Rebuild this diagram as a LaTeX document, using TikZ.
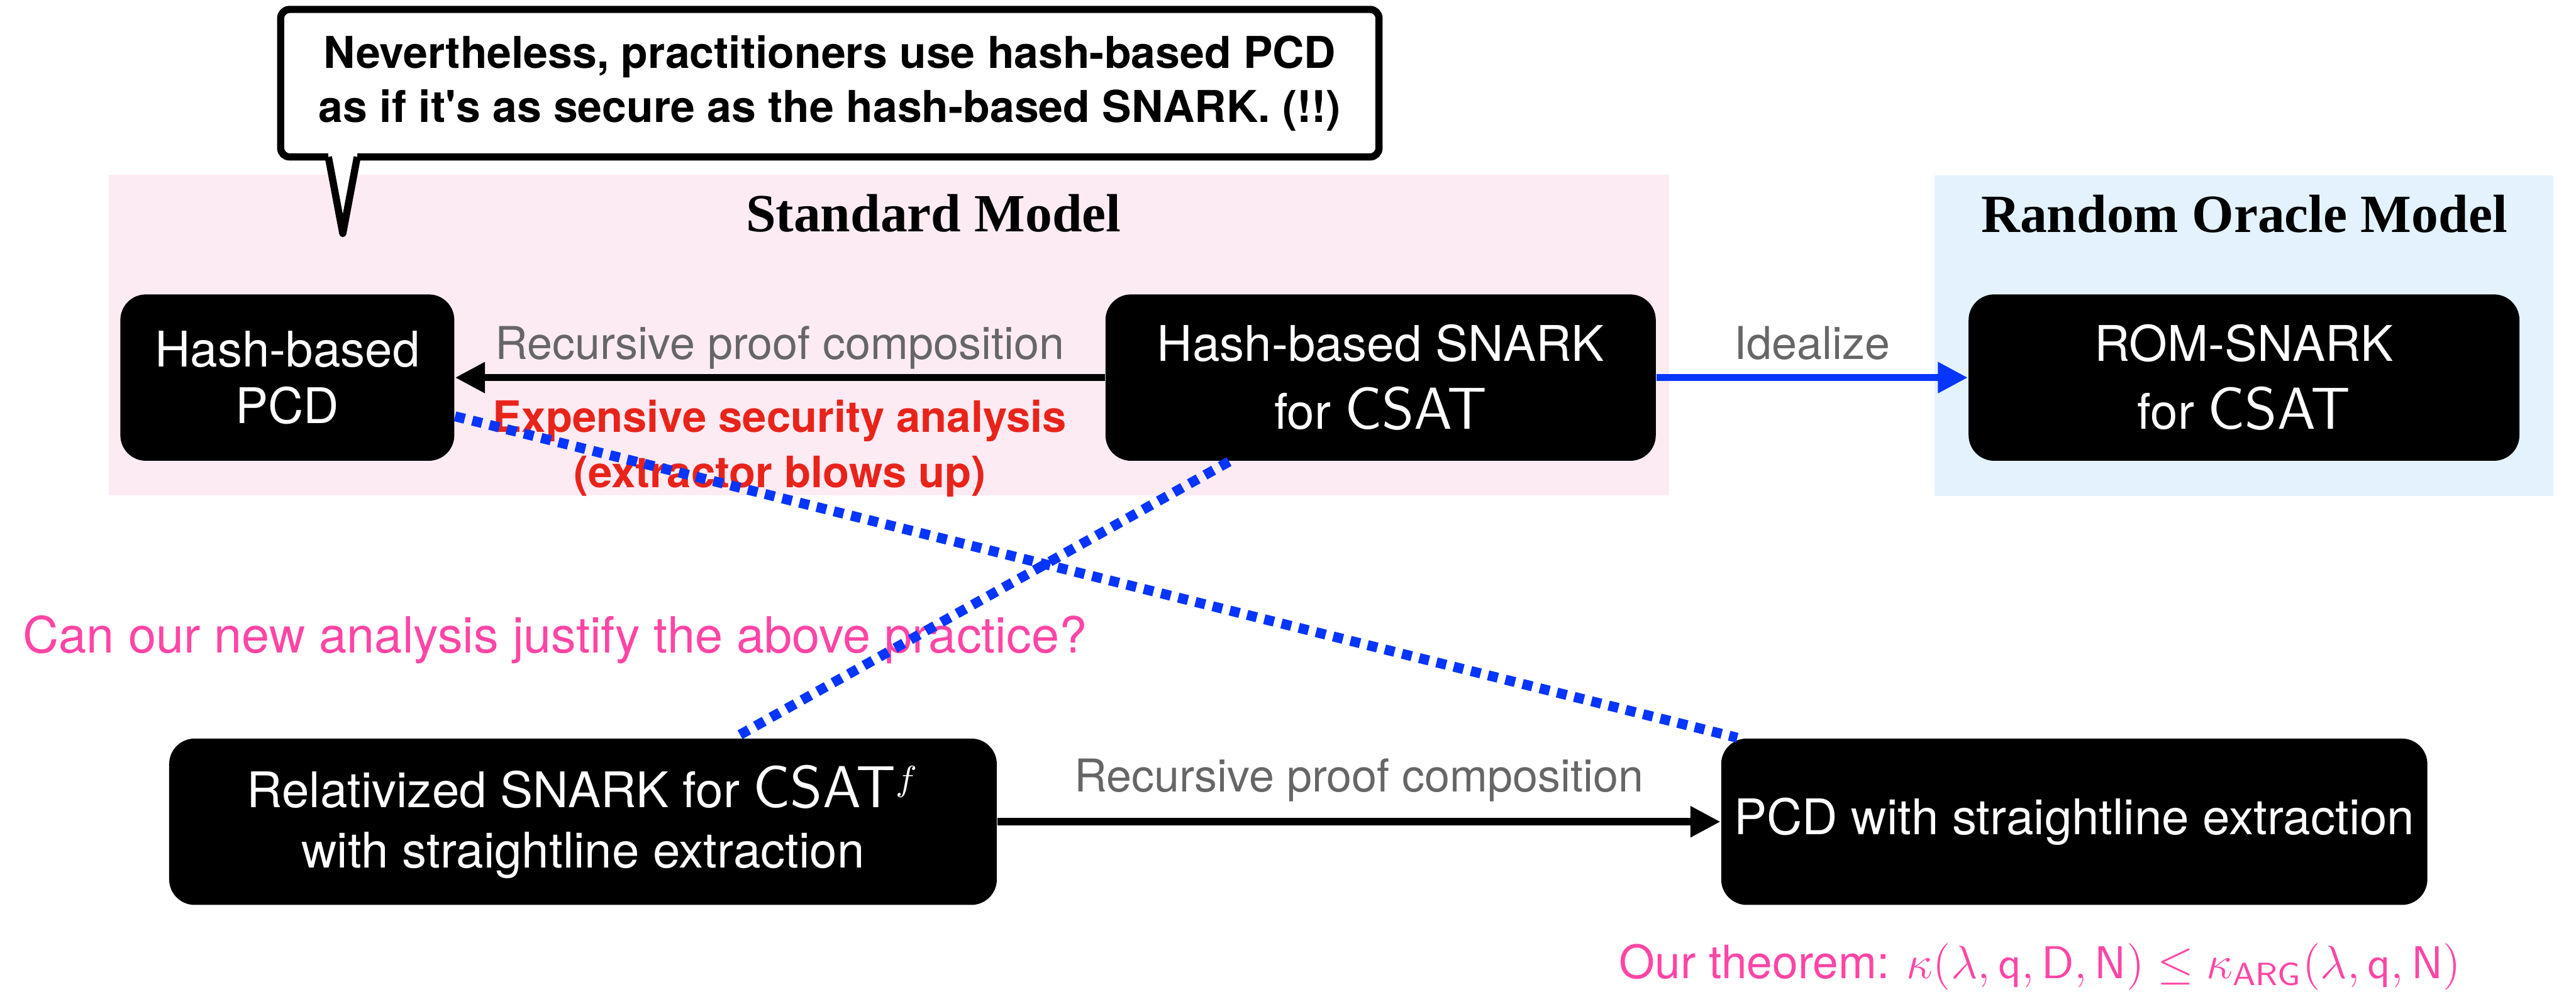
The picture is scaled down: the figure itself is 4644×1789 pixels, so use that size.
\documentclass[tikz,border=0pt]{standalone}
\usepackage{fontspec}
\setmainfont{TeX Gyre Heros}
\newfontfamily\titleserif{Liberation Serif}
\usetikzlibrary{arrows.meta,positioning}
\definecolor{pinkbg}{HTML}{FDEBF4}
\definecolor{bluebg}{HTML}{E3F2FD}
\definecolor{hotpink}{HTML}{FF45A5}
\definecolor{alertred}{HTML}{E8241A}
\definecolor{linkblue}{HTML}{0535FF}
\definecolor{labelgray}{HTML}{666666}
\newcommand{\csat}{{\sffamily\fontsize{15.2}{15.2}\selectfont CSAT}}

\begin{document}
\begin{tikzpicture}[x=0.05mm,y=-0.05mm,
   box/.style={fill=black,text=white,rounded corners=2.3mm,align=center,inner sep=0pt,
               minimum height=15mm,font=\fontsize{12.6}{14.65}\selectfont},
   lbl/.style={text=labelgray,inner sep=0pt,font=\fontsize{11.6}{13}\selectfont},
   arr/.style={-{Triangle[length=2.7mm,width=2.65mm]},line width=0.65mm},
   dots/.style={linkblue,line width=0.9mm,dash pattern=on 0.9mm off 0.7mm},
   region/.style={inner sep=0pt,minimum height=28.9mm},
   title/.style={inner sep=0pt,anchor=base,font=\titleserif\bfseries\fontsize{13.8}{15}\selectfont}]
  \useasboundingbox (0,0) rectangle (4644,1789);
  % model regions
  \node[region,fill=pinkbg,minimum width=140.65mm] (stdm) at (1602.5,604) {};
  \node[region,fill=bluebg,minimum width=55.8mm]   (romm) at (4045,605) {};
  \node[title] (stdt) at (1683,418) {Standard Model};
  \node[title] (romt) at (4046,419) {Random Oracle Model};
  % speech bubble
  \node[draw,fill=white,line width=0.65mm,rounded corners=0.8mm,minimum width=99mm,
        minimum height=13.3mm,align=center,font=\bfseries\fontsize{11.25}{13.94}\selectfont]
       (note) at (1496,150)
       {Nevertheless, practitioners use hash-based PCD\\as if it\textquotesingle s as secure as the hash-based SNARK. (!!)};
  \coordinate (tl)  at (592,283);
  \coordinate (tr)  at (644,283);
  \coordinate (tip) at (618,421);
  \fill[white] ([yshift=0.7mm]tl) -- (tl) -- (tip) -- (tr) -- ([yshift=0.7mm]tr) -- cycle;
  \draw[line width=0.65mm,line join=round] (tl) -- (tip) -- (tr);
  % boxes
  \node[box,minimum width=30.1mm] (hpcd) at (518,681) {Hash-based\\PCD};
  \node[box,minimum width=49.6mm,font=\fontsize{12.6}{17.4}\selectfont] (hsnark) at (2489,681)
       {Hash-based SNARK\\for \csat};
  \node[box,minimum width=49.65mm,font=\fontsize{12.6}{17.4}\selectfont] (rom) at (4045.5,681)
       {ROM-SNARK\\for \csat};
  \node[box,minimum width=74.6mm,font=\fontsize{12.6}{15.4}\selectfont] (relsnark) at (1051,1482)
       {Relativized SNARK for \csat$^{f}$\\with straightline extraction};
  \node[box,minimum width=63.65mm] (spcd) at (3739.5,1482) {PCD with straightline extraction};
  % arrows
  \draw[arr] (hsnark) -- (hpcd)
       node[lbl,midway,anchor=base,yshift=1.65mm] {Recursive proof composition}
       node[midway,anchor=north,yshift=-1.7mm,inner sep=0pt,align=center,text=alertred,
            font=\bfseries\fontsize{11.1}{14.1}\selectfont] {Expensive security analysis\\(extractor blows up)};
  \draw[arr,linkblue] (hsnark) -- (rom)
       node[lbl,midway,anchor=base,yshift=1.65mm] {Idealize};
  \draw[arr] (relsnark) -- (spcd)
       node[lbl,midway,anchor=base,yshift=2.7mm] {Recursive proof composition};
  % questions
  \node[anchor=base west,inner sep=0pt,text=hotpink,font=\fontsize{12.8}{14}\selectfont] (ask) at (40,1177)
       {Can our new analysis justify the above practice?};
  \node[anchor=base west,inner sep=0pt,text=hotpink,font=\fontsize{11.8}{14}\selectfont] (thm) at (2918,1765)
       {Our theorem: $\kappa(\lambda,\mathsf{q},\mathsf{D},\mathsf{N})\leq\kappa_{\mathsf{ARG}}(\lambda,\mathsf{q},\mathsf{N})$};
  % dotted links
  \draw[dots] (hpcd.-13) -- (spcd.166);
  \draw[dots] (hsnark.-151) -- (relsnark.29);
\end{tikzpicture}
\end{document}
